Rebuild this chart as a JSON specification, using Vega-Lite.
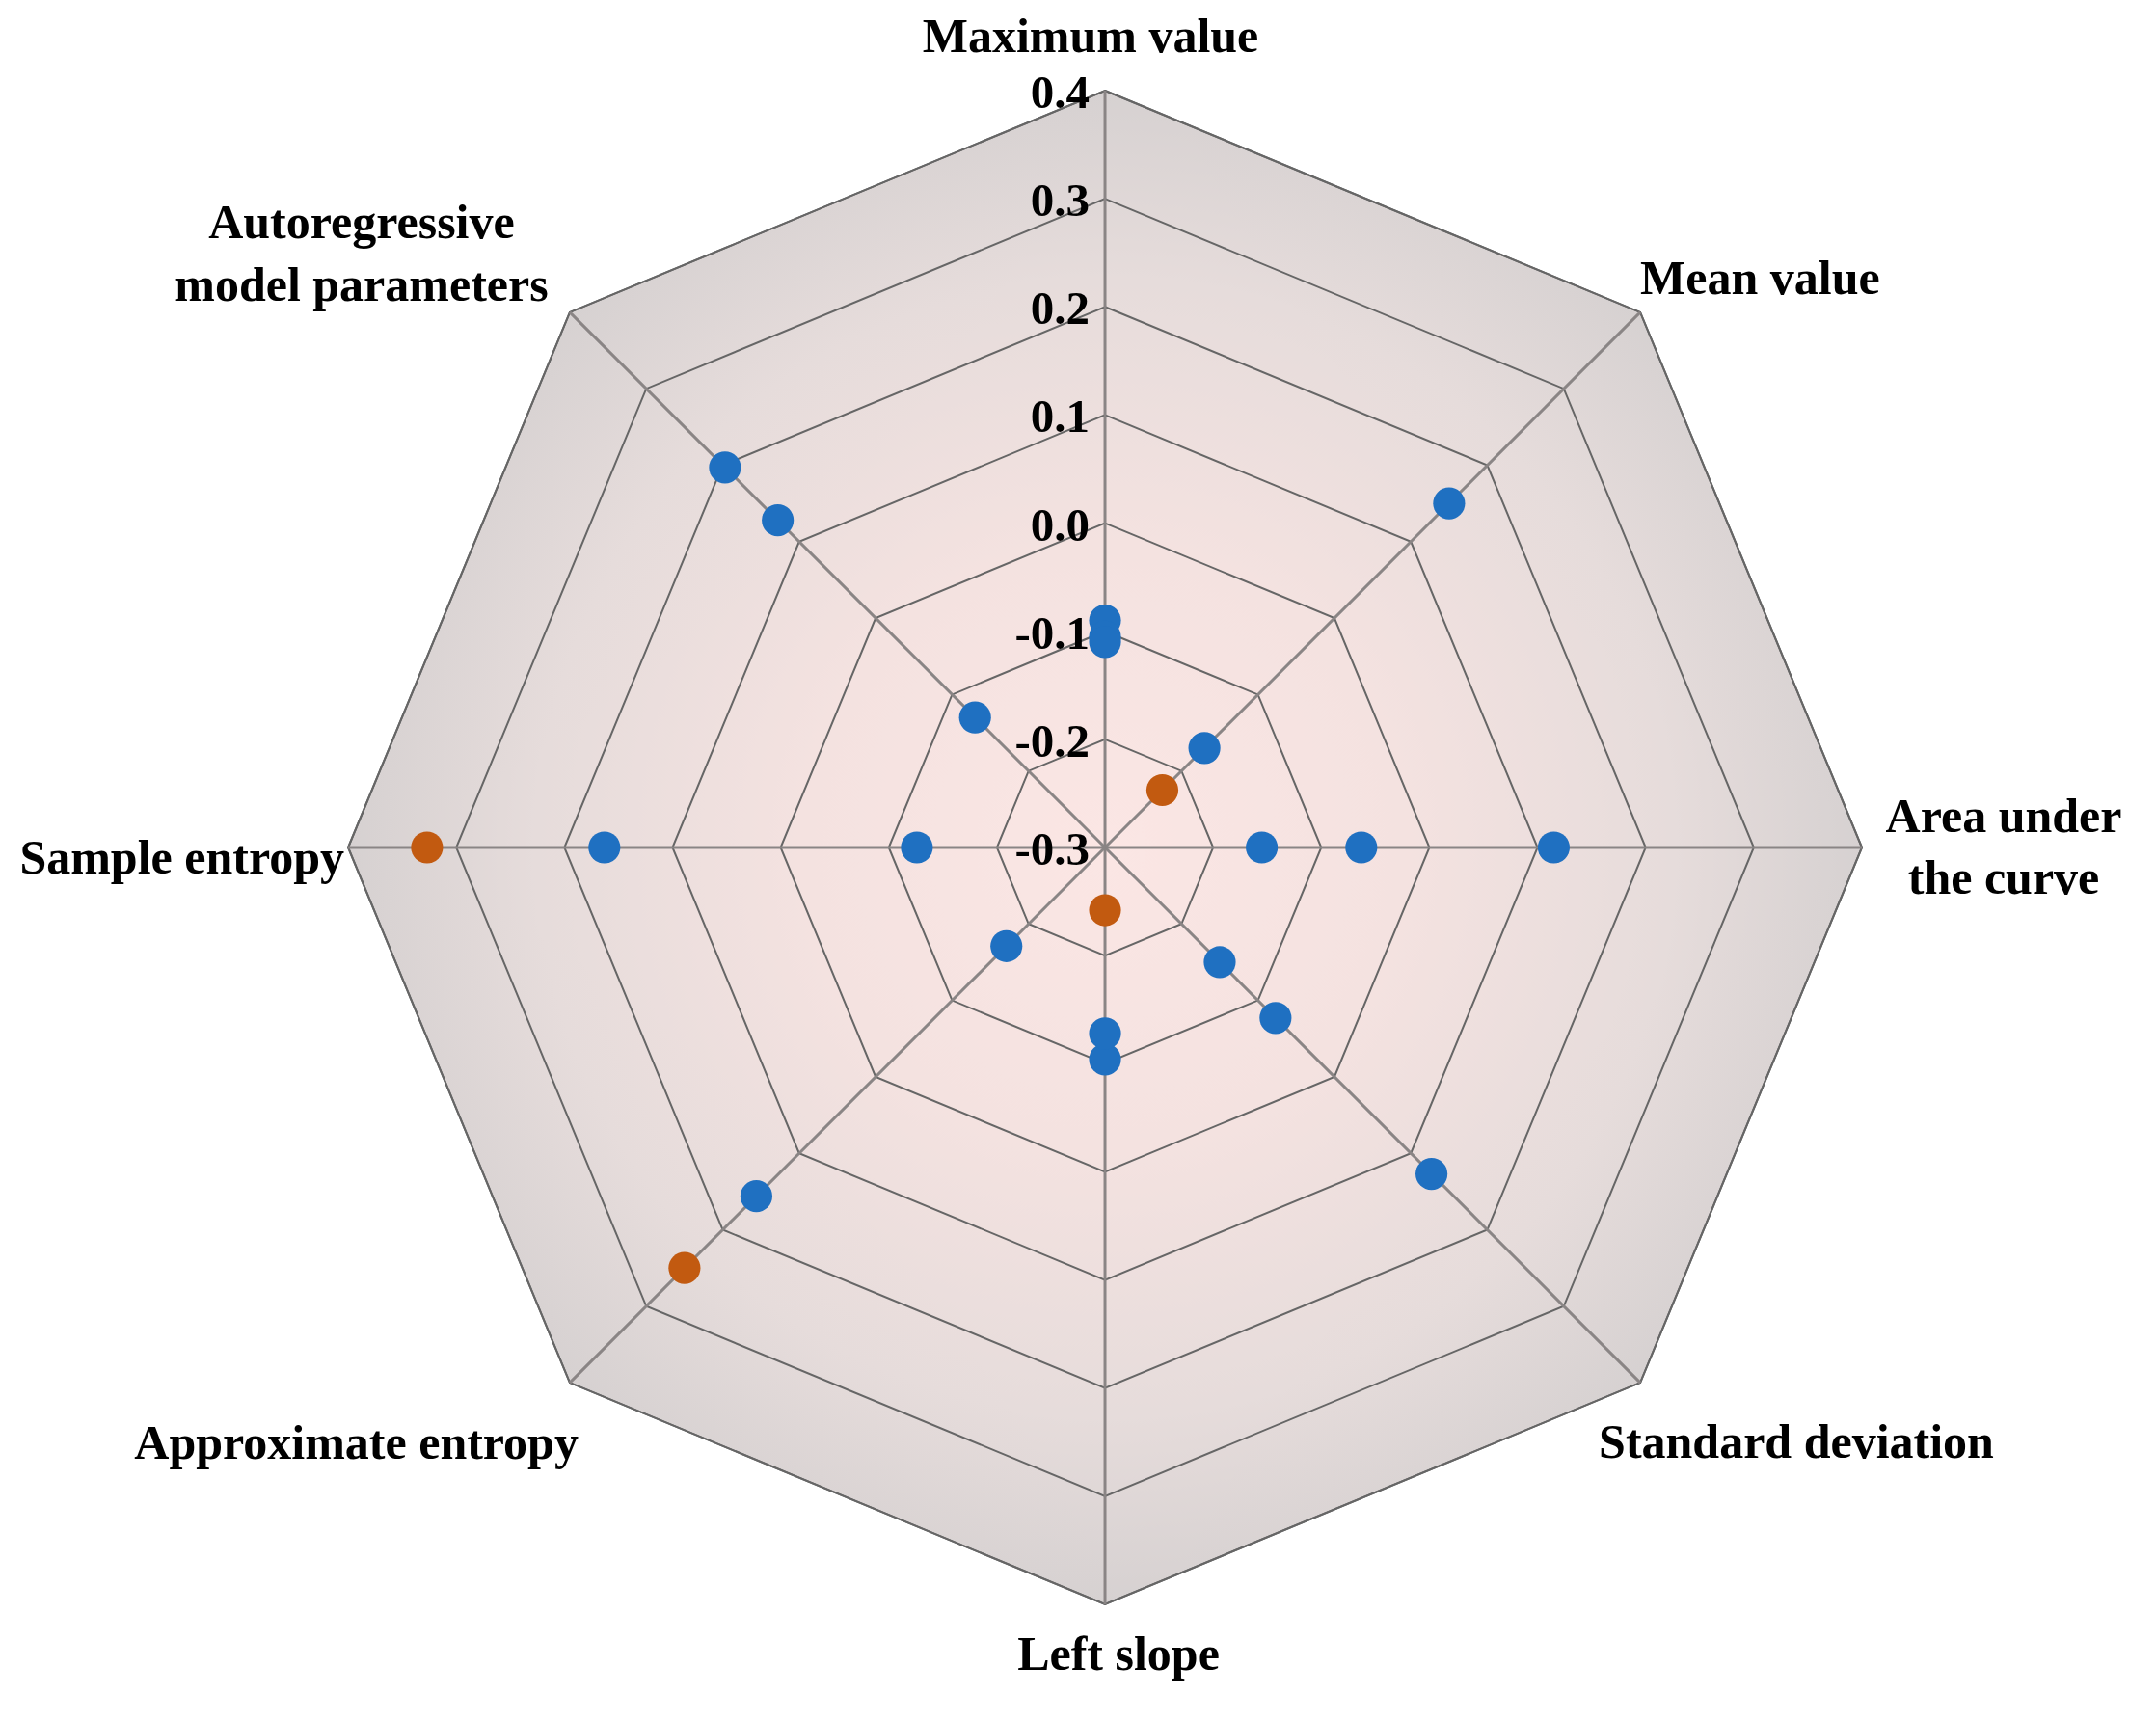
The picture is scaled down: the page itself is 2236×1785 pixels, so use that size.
{
  "$schema": "https://vega.github.io/schema/vega-lite/v6.json",
  "width": 2236,
  "height": 1785,
  "autosize": {"type": "none"},
  "padding": 0,
  "background": "white",
  "config": {"view": {"stroke": null}},
  "datasets": {
    "axes": [
      {"feature": "Maximum value", "label": "Maximum value", "order": 0, "levels": [-0.3, -0.2, -0.1, 0.0, 0.1, 0.2, 0.3, 0.4]},
      {"feature": "Mean value", "label": "Mean value", "order": 1, "levels": [-0.3, -0.2, -0.1, 0.0, 0.1, 0.2, 0.3, 0.4]},
      {"feature": "Area under the curve", "label": ["Area under", "the curve"], "order": 2, "levels": [-0.3, -0.2, -0.1, 0.0, 0.1, 0.2, 0.3, 0.4]},
      {"feature": "Standard deviation", "label": "Standard deviation", "order": 3, "levels": [-0.3, -0.2, -0.1, 0.0, 0.1, 0.2, 0.3, 0.4]},
      {"feature": "Left slope", "label": "Left slope", "order": 4, "levels": [-0.3, -0.2, -0.1, 0.0, 0.1, 0.2, 0.3, 0.4]},
      {"feature": "Approximate entropy", "label": "Approximate entropy", "order": 5, "levels": [-0.3, -0.2, -0.1, 0.0, 0.1, 0.2, 0.3, 0.4]},
      {"feature": "Sample entropy", "label": "Sample entropy", "order": 6, "levels": [-0.3, -0.2, -0.1, 0.0, 0.1, 0.2, 0.3, 0.4]},
      {"feature": "Autoregressive model parameters", "label": ["Autoregressive", "model parameters"], "order": 7, "levels": [-0.3, -0.2, -0.1, 0.0, 0.1, 0.2, 0.3, 0.4]}
    ],
    "points": [
      {"feature": "Maximum value", "value": -0.09, "group": "Series 1"},
      {"feature": "Maximum value", "value": -0.105, "group": "Series 1"},
      {"feature": "Maximum value", "value": -0.11, "group": "Series 1"},
      {"feature": "Mean value", "value": 0.15, "group": "Series 1"},
      {"feature": "Mean value", "value": -0.17, "group": "Series 1"},
      {"feature": "Mean value", "value": -0.225, "group": "Series 2"},
      {"feature": "Area under the curve", "value": 0.115, "group": "Series 1"},
      {"feature": "Area under the curve", "value": -0.063, "group": "Series 1"},
      {"feature": "Area under the curve", "value": -0.155, "group": "Series 1"},
      {"feature": "Standard deviation", "value": 0.127, "group": "Series 1"},
      {"feature": "Standard deviation", "value": -0.077, "group": "Series 1"},
      {"feature": "Standard deviation", "value": -0.15, "group": "Series 1"},
      {"feature": "Left slope", "value": -0.104, "group": "Series 1"},
      {"feature": "Left slope", "value": -0.128, "group": "Series 1"},
      {"feature": "Left slope", "value": -0.242, "group": "Series 2"},
      {"feature": "Approximate entropy", "value": 0.156, "group": "Series 1"},
      {"feature": "Approximate entropy", "value": -0.171, "group": "Series 1"},
      {"feature": "Approximate entropy", "value": 0.25, "group": "Series 2"},
      {"feature": "Sample entropy", "value": 0.163, "group": "Series 1"},
      {"feature": "Sample entropy", "value": -0.126, "group": "Series 1"},
      {"feature": "Sample entropy", "value": 0.327, "group": "Series 2"},
      {"feature": "Autoregressive model parameters", "value": 0.197, "group": "Series 1"},
      {"feature": "Autoregressive model parameters", "value": 0.128, "group": "Series 1"},
      {"feature": "Autoregressive model parameters", "value": -0.13, "group": "Series 1"}
    ]
  },
  "encoding": {
    "x": {"field": "px", "type": "quantitative", "scale": {"domain": [-1.4599, 1.3885], "nice": false, "zero": false}, "axis": null},
    "y": {"field": "py", "type": "quantitative", "scale": {"domain": [-1.1541, 1.1197], "nice": false, "zero": false}, "axis": null}
  },
  "layer": [
    {
      "data": {"name": "axes"},
      "transform": [
        {"calculate": "PI/2 - datum.order*PI/4", "as": "theta"},
        {"calculate": "cos(datum.theta)", "as": "px"},
        {"calculate": "sin(datum.theta)", "as": "py"}
      ],
      "mark": {
        "type": "line",
        "interpolate": "linear-closed",
        "fill": {
          "gradient": "radial",
          "x1": 0.5, "y1": 0.5, "r1": 0,
          "x2": 0.5, "y2": 0.5, "r2": 0.5,
          "stops": [
            {"offset": 0, "color": "#fbe6e4"},
            {"offset": 0.4, "color": "#f4e2e0"},
            {"offset": 0.75, "color": "#e6dcdb"},
            {"offset": 1, "color": "#d6d1d1"}
          ]
        },
        "stroke": "#6a6a6a",
        "strokeWidth": 2
      },
      "encoding": {"order": {"field": "order", "type": "quantitative"}}
    },
    {
      "data": {"name": "axes"},
      "transform": [
        {"flatten": ["levels"]},
        {"filter": "datum.levels > -0.25"},
        {"calculate": "PI/2 - datum.order*PI/4", "as": "theta"},
        {"calculate": "(datum.levels + 0.3)/0.7", "as": "r"},
        {"calculate": "datum.r*cos(datum.theta)", "as": "px"},
        {"calculate": "datum.r*sin(datum.theta)", "as": "py"}
      ],
      "mark": {"type": "line", "interpolate": "linear-closed", "stroke": "#666666", "strokeWidth": 2},
      "encoding": {
        "detail": {"field": "levels", "type": "nominal"},
        "order": {"field": "order", "type": "quantitative"}
      }
    },
    {
      "data": {"name": "axes"},
      "transform": [
        {"calculate": "PI/2 - datum.order*PI/4", "as": "theta"},
        {"calculate": "cos(datum.theta)", "as": "px"},
        {"calculate": "sin(datum.theta)", "as": "py"}
      ],
      "mark": {"type": "rule", "stroke": "#8a8585", "strokeWidth": 3},
      "encoding": {
        "x2": {"datum": 0},
        "y2": {"datum": 0}
      }
    },
    {
      "data": {"name": "points"},
      "transform": [
        {"lookup": "feature", "from": {"data": {"name": "axes"}, "key": "feature", "fields": ["order"]}},
        {"calculate": "PI/2 - datum.order*PI/4", "as": "theta"},
        {"calculate": "(datum.value + 0.3)/0.7", "as": "r"},
        {"calculate": "datum.r*cos(datum.theta)", "as": "px"},
        {"calculate": "datum.r*sin(datum.theta)", "as": "py"}
      ],
      "mark": {"type": "circle", "size": 1100, "opacity": 1},
      "encoding": {
        "color": {"field": "group", "type": "nominal", "scale": {"domain": ["Series 1", "Series 2"], "range": ["#1f70c1", "#c25a10"]}, "legend": null}
      }
    },
    {
      "data": {"name": "axes"},
      "transform": [
        {"filter": "datum.order == 0"},
        {"flatten": ["levels"]},
        {"calculate": "(datum.levels + 0.3)/0.7", "as": "py"},
        {"calculate": "0", "as": "px"},
        {"calculate": "replace(format(datum.levels, '.1f'), '\u2212', '-')", "as": "tick"}
      ],
      "mark": {"type": "text", "align": "right", "baseline": "middle", "dx": -16, "dy": 3, "font": "Liberation Serif", "fontWeight": "bold", "fontSize": 49, "color": "#000000"},
      "encoding": {"text": {"field": "tick", "type": "nominal"}}
    },
    {
      "data": {"name": "axes"},
      "transform": [
        {"calculate": "PI/2 - datum.order*PI/4", "as": "theta"},
        {"calculate": "cos(datum.theta)", "as": "px"},
        {"calculate": "sin(datum.theta)", "as": "py"},
        {"filter": "datum.order == 0"}
      ],
      "mark": {"type": "text", "align": "center", "baseline": "alphabetic", "dx": -15, "dy": -40, "font": "Liberation Serif", "fontWeight": "bold", "fontSize": 50, "color": "#000000"},
      "encoding": {"text": {"field": "label", "type": "nominal"}}
    },
    {
      "data": {"name": "axes"},
      "transform": [
        {"calculate": "PI/2 - datum.order*PI/4", "as": "theta"},
        {"calculate": "cos(datum.theta)", "as": "px"},
        {"calculate": "sin(datum.theta)", "as": "py"},
        {"filter": "datum.order == 1"}
      ],
      "mark": {"type": "text", "align": "left", "baseline": "alphabetic", "dx": 0, "dy": -19, "font": "Liberation Serif", "fontWeight": "bold", "fontSize": 50, "color": "#000000"},
      "encoding": {"text": {"field": "label", "type": "nominal"}}
    },
    {
      "data": {"name": "axes"},
      "transform": [
        {"calculate": "PI/2 - datum.order*PI/4", "as": "theta"},
        {"calculate": "cos(datum.theta)", "as": "px"},
        {"calculate": "sin(datum.theta)", "as": "py"},
        {"filter": "datum.order == 2"}
      ],
      "mark": {"type": "text", "align": "center", "baseline": "alphabetic", "dx": 147, "dy": -16, "lineHeight": 64, "font": "Liberation Serif", "fontWeight": "bold", "fontSize": 50, "color": "#000000"},
      "encoding": {"text": {"field": "label", "type": "nominal"}}
    },
    {
      "data": {"name": "axes"},
      "transform": [
        {"calculate": "PI/2 - datum.order*PI/4", "as": "theta"},
        {"calculate": "cos(datum.theta)", "as": "px"},
        {"calculate": "sin(datum.theta)", "as": "py"},
        {"filter": "datum.order == 3"}
      ],
      "mark": {"type": "text", "align": "left", "baseline": "alphabetic", "dx": -43, "dy": 78, "font": "Liberation Serif", "fontWeight": "bold", "fontSize": 50, "color": "#000000"},
      "encoding": {"text": {"field": "label", "type": "nominal"}}
    },
    {
      "data": {"name": "axes"},
      "transform": [
        {"calculate": "PI/2 - datum.order*PI/4", "as": "theta"},
        {"calculate": "cos(datum.theta)", "as": "px"},
        {"calculate": "sin(datum.theta)", "as": "py"},
        {"filter": "datum.order == 4"}
      ],
      "mark": {"type": "text", "align": "center", "baseline": "alphabetic", "dx": 14, "dy": 68, "font": "Liberation Serif", "fontWeight": "bold", "fontSize": 50, "color": "#000000"},
      "encoding": {"text": {"field": "label", "type": "nominal"}}
    },
    {
      "data": {"name": "axes"},
      "transform": [
        {"calculate": "PI/2 - datum.order*PI/4", "as": "theta"},
        {"calculate": "cos(datum.theta)", "as": "px"},
        {"calculate": "sin(datum.theta)", "as": "py"},
        {"filter": "datum.order == 5"}
      ],
      "mark": {"type": "text", "align": "right", "baseline": "alphabetic", "dx": 9, "dy": 79, "font": "Liberation Serif", "fontWeight": "bold", "fontSize": 50, "color": "#000000"},
      "encoding": {"text": {"field": "label", "type": "nominal"}}
    },
    {
      "data": {"name": "axes"},
      "transform": [
        {"calculate": "PI/2 - datum.order*PI/4", "as": "theta"},
        {"calculate": "cos(datum.theta)", "as": "px"},
        {"calculate": "sin(datum.theta)", "as": "py"},
        {"filter": "datum.order == 6"}
      ],
      "mark": {"type": "text", "align": "right", "baseline": "alphabetic", "dx": -4, "dy": 27, "font": "Liberation Serif", "fontWeight": "bold", "fontSize": 50, "color": "#000000"},
      "encoding": {"text": {"field": "label", "type": "nominal"}}
    },
    {
      "data": {"name": "axes"},
      "transform": [
        {"calculate": "PI/2 - datum.order*PI/4", "as": "theta"},
        {"calculate": "cos(datum.theta)", "as": "px"},
        {"calculate": "sin(datum.theta)", "as": "py"},
        {"filter": "datum.order == 7"}
      ],
      "mark": {"type": "text", "align": "center", "baseline": "alphabetic", "dx": -216, "dy": -77, "lineHeight": 65, "font": "Liberation Serif", "fontWeight": "bold", "fontSize": 50, "color": "#000000"},
      "encoding": {"text": {"field": "label", "type": "nominal"}}
    }
  ]
}
